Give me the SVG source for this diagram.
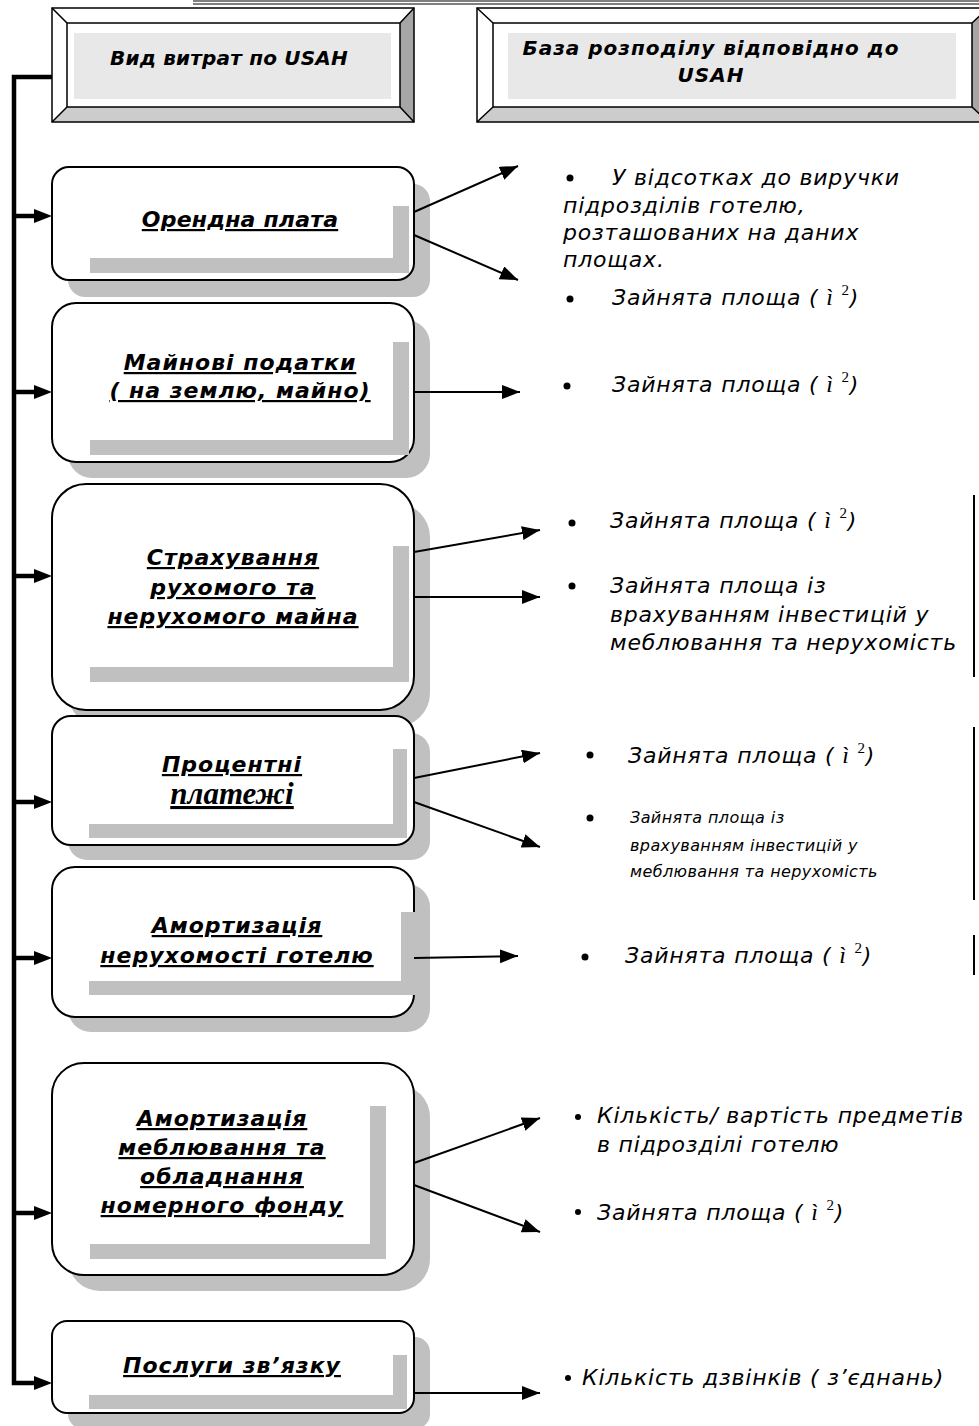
<svg xmlns="http://www.w3.org/2000/svg" width="979" height="1426" viewBox="0 0 979 1426">
<style>
.hdr{font-family:"DejaVu Sans","Liberation Sans",sans-serif;font-weight:bold;font-style:italic;font-size:20px;letter-spacing:0.6px;fill:#000;text-anchor:middle}
.nt{font-family:"DejaVu Sans","Liberation Sans",sans-serif;font-weight:bold;font-style:italic;font-size:22px;letter-spacing:1px;fill:#000;text-anchor:middle;text-decoration:underline}
.rt{font-family:"DejaVu Sans","Liberation Sans",sans-serif;font-style:italic;font-size:22px;letter-spacing:0.8px;fill:#000}
.rs{font-family:"DejaVu Sans","Liberation Sans",sans-serif;font-style:italic;font-size:16px;letter-spacing:0.4px;fill:#000}
.ser{font-family:"Liberation Serif",serif;font-style:italic;font-size:24px}
.sup{font-family:"Liberation Serif",serif;font-style:normal;font-size:15px}
.box{fill:#fff;stroke:#000;stroke-width:2}
.shd{fill:#c0c0c0}
.bev{stroke:#000;stroke-width:1.5}
.bus{stroke:#000;stroke-width:4.5;fill:none}
.thin{stroke:#000;stroke-width:2;fill:none;marker-end:url(#ah)}
.vl{stroke:#000;stroke-width:2}
</style>
<defs>
<marker id="ah" markerUnits="userSpaceOnUse" markerWidth="20" markerHeight="16" refX="18" refY="7" orient="auto">
<path d="M0,0 L18,7 L0,14 Z" fill="#000"/>
</marker>
</defs>

<line x1="193" y1="1" x2="979" y2="1" stroke="#000" stroke-width="1.2"/>
<line x1="193" y1="4" x2="979" y2="4" stroke="#000" stroke-width="1.2"/>

<g id="header1">
<rect x="52" y="8" width="362" height="114" fill="#fff"/>
<polygon points="414,8 414,122 400,107 400,23" fill="#a6a6a6"/>
<polygon points="52,122 414,122 400,107 67,107" fill="#cccccc"/>
<rect x="74" y="33" width="317" height="66" fill="#e8e8e8"/>
<rect x="52" y="8" width="362" height="114" fill="none" class="bev"/>
<rect x="67" y="23" width="333" height="84" fill="none" class="bev"/>
<path d="M52,8 L67,23 M414,8 L400,23 M52,122 L67,107 M414,122 L400,107" class="bev"/>
<text class="hdr" x="229" y="65" style="letter-spacing:0.2px">Вид витрат по USAH</text>
</g>

<g id="header2">
<rect x="477" y="8" width="511" height="114" fill="#fff"/>
<polygon points="988,8 988,122 972,107 972,23" fill="#a6a6a6"/>
<polygon points="477,122 988,122 972,107 493,107" fill="#cccccc"/>
<rect x="508" y="33" width="448" height="66" fill="#e8e8e8"/>
<rect x="477" y="8" width="511" height="114" fill="none" class="bev"/>
<rect x="493" y="23" width="479" height="84" fill="none" class="bev"/>
<path d="M477,8 L493,23 M988,8 L972,23 M477,122 L493,107 M988,122 L972,107" class="bev"/>
<text class="hdr" x="711" y="55" style="letter-spacing:1px">База розподілу відповідно до</text>
<text class="hdr" x="711" y="82" style="letter-spacing:1px">USAH</text>
</g>

<g id="node1">
<rect class="shd" x="68" y="184" width="362" height="113" rx="17"/>
<rect class="box" x="52" y="167" width="362" height="113" rx="17"/>
<path class="shd" d="M393,206 H409 V273 H90 V258 H393 Z"/>
<text class="nt" x="240" y="227" style="letter-spacing:0.2px">Орендна плата</text>
</g>

<g id="node2">
<rect class="shd" x="68" y="320" width="362" height="158" rx="24"/>
<rect class="box" x="52" y="303" width="362" height="159" rx="24"/>
<path class="shd" d="M393,342 H409 V455 H90 V440 H393 Z"/>
<text class="nt" x="240" y="370">Майнові податки</text>
<text class="nt" x="240" y="398">( на землю, майно)</text>
</g>

<g id="node3">
<rect class="shd" x="68" y="503" width="362" height="224" rx="34"/>
<rect class="box" x="52" y="484" width="362" height="226" rx="34"/>
<path class="shd" d="M393,546 H409 V682 H90 V667 H393 Z"/>
<text class="nt" x="233" y="565">Страхування</text>
<text class="nt" x="233" y="595">рухомого та</text>
<text class="nt" x="233" y="624">нерухомого майна</text>
</g>

<g id="node4">
<rect class="shd" x="68" y="733" width="362" height="127" rx="19"/>
<rect class="box" x="52" y="716" width="362" height="129" rx="19"/>
<path class="shd" d="M393,749 H407 V838 H89 V824 H393 Z"/>
<text class="nt" x="232" y="772">Процентні</text>
<text class="nt" x="232" y="804" style="font-family:'Liberation Serif',serif;font-size:31px;letter-spacing:0">платежі</text>
</g>

<g id="node5">
<rect class="shd" x="68" y="884" width="362" height="148" rx="23"/>
<rect class="box" x="52" y="867" width="362" height="150" rx="23"/>
<path class="shd" d="M401,912 H416 V995 H89 V981 H401 Z"/>
<text class="nt" x="237" y="933">Амортизація</text>
<text class="nt" x="237" y="963">нерухомості готелю</text>
</g>

<g id="node6">
<rect class="shd" x="68" y="1085" width="362" height="206" rx="32"/>
<rect class="box" x="52" y="1063" width="362" height="212" rx="32"/>
<path class="shd" d="M370,1106 H386 V1259 H90 V1244 H370 Z"/>
<text class="nt" x="222" y="1126">Амортизація</text>
<text class="nt" x="222" y="1155">меблювання та</text>
<text class="nt" x="222" y="1184">обладнання</text>
<text class="nt" x="222" y="1213">номерного фонду</text>
</g>

<g id="node7">
<rect class="shd" x="68" y="1337" width="362" height="92" rx="15"/>
<rect class="box" x="52" y="1321" width="362" height="92" rx="15"/>
<path class="shd" d="M393,1355 H407 V1409 H89 V1395 H393 Z"/>
<text class="nt" x="232" y="1373">Послуги зв’язку</text>
</g>

<g id="connectors">
<path class="bus" d="M52,77 H14 V1383 H36"/>
<line class="bus" x1="14" y1="216" x2="36" y2="216"/>
<line class="bus" x1="14" y1="392" x2="36" y2="392"/>
<line class="bus" x1="14" y1="576" x2="36" y2="576"/>
<line class="bus" x1="14" y1="802" x2="36" y2="802"/>
<line class="bus" x1="14" y1="958" x2="36" y2="958"/>
<line class="bus" x1="14" y1="1213" x2="36" y2="1213"/>
<g fill="#000">
<polygon points="34,209 52,216 34,223"/>
<polygon points="34,385 52,392 34,399"/>
<polygon points="34,569 52,576 34,583"/>
<polygon points="34,795 52,802 34,809"/>
<polygon points="34,951 52,958 34,965"/>
<polygon points="34,1206 52,1213 34,1220"/>
<polygon points="34,1376 52,1383 34,1390"/>
</g>
<line class="thin" x1="414" y1="212" x2="518" y2="166"/>
<line class="thin" x1="414" y1="235" x2="518" y2="280"/>
<line class="thin" x1="414" y1="392" x2="520" y2="392"/>
<line class="thin" x1="414" y1="552" x2="540" y2="530"/>
<line class="thin" x1="414" y1="597" x2="540" y2="597"/>
<line class="thin" x1="414" y1="778" x2="540" y2="753"/>
<line class="thin" x1="414" y1="802" x2="540" y2="847"/>
<line class="thin" x1="414" y1="958" x2="518" y2="956"/>
<line class="thin" x1="414" y1="1163" x2="540" y2="1118"/>
<line class="thin" x1="414" y1="1185" x2="540" y2="1232"/>
<line class="thin" x1="414" y1="1393" x2="540" y2="1393"/>
</g>

<g id="bases">
<circle cx="570" cy="178" r="3.5"/>
<text class="rt" x="612" y="185">У відсотках до виручки</text>
<text class="rt" x="563" y="213">підрозділів готелю,</text>
<text class="rt" x="563" y="240">розташованих на даних</text>
<text class="rt" x="563" y="267">площах.</text>
<circle cx="570" cy="299" r="3.5"/>
<text class="rt" x="612" y="305">Зайнята площа ( <tspan class="ser">ì</tspan> <tspan class="sup" dy="-10">2</tspan><tspan dy="10">)</tspan></text>

<circle cx="567" cy="386" r="3.5"/>
<text class="rt" x="612" y="392">Зайнята площа ( <tspan class="ser">ì</tspan> <tspan class="sup" dy="-10">2</tspan><tspan dy="10">)</tspan></text>

<circle cx="572" cy="523" r="3.5"/>
<text class="rt" x="610" y="528">Зайнята площа ( <tspan class="ser">ì</tspan> <tspan class="sup" dy="-10">2</tspan><tspan dy="10">)</tspan></text>
<circle cx="572" cy="586" r="3.5"/>
<text class="rt" x="610" y="593">Зайнята площа із</text>
<text class="rt" x="610" y="622">врахуванням інвестицій у</text>
<text class="rt" x="610" y="650">меблювання та нерухомість</text>
<line class="vl" x1="974" y1="495" x2="974" y2="677"/>

<circle cx="590" cy="755" r="3.5"/>
<text class="rt" x="628" y="763">Зайнята площа ( <tspan class="ser">ì</tspan> <tspan class="sup" dy="-10">2</tspan><tspan dy="10">)</tspan></text>
<circle cx="590" cy="818" r="3.5"/>
<text class="rs" x="630" y="823">Зайнята площа із</text>
<text class="rs" x="630" y="851">врахуванням інвестицій у</text>
<text class="rs" x="630" y="877">меблювання та нерухомість</text>
<line class="vl" x1="974" y1="727" x2="974" y2="900"/>

<circle cx="585" cy="957" r="3.5"/>
<text class="rt" x="625" y="963">Зайнята площа ( <tspan class="ser">ì</tspan> <tspan class="sup" dy="-10">2</tspan><tspan dy="10">)</tspan></text>
<line class="vl" x1="974" y1="935" x2="974" y2="975"/>

<circle cx="578" cy="1117" r="3"/>
<text class="rt" x="597" y="1123">Кількість/ вартість предметів</text>
<text class="rt" x="597" y="1152">в підрозділі готелю</text>
<circle cx="578" cy="1212" r="3"/>
<text class="rt" x="597" y="1220">Зайнята площа ( <tspan class="ser">ì</tspan> <tspan class="sup" dy="-10">2</tspan><tspan dy="10">)</tspan></text>

<circle cx="568" cy="1378" r="3"/>
<text class="rt" x="582" y="1385">Кількість дзвінків ( з’єднань)</text>
</g>
</svg>
